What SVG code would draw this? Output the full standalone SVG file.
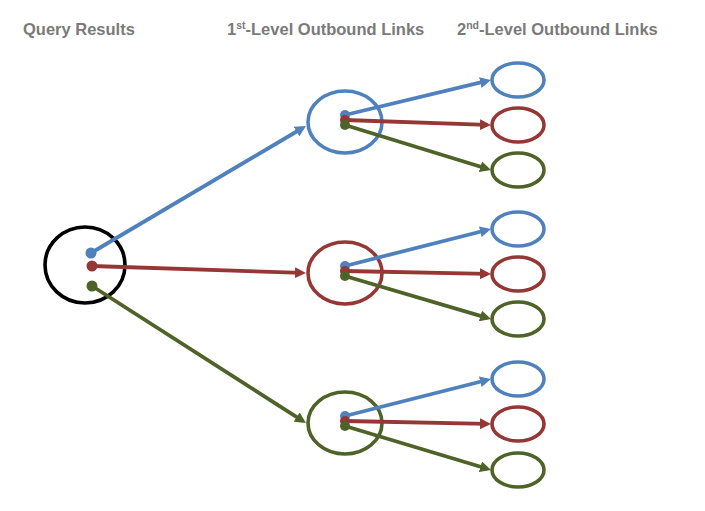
<svg xmlns="http://www.w3.org/2000/svg" width="705" height="511" viewBox="0 0 705 511">
<style>
.t{font-family:"Liberation Sans",Arial,sans-serif;font-weight:bold;font-size:16.5px;fill:#7A7A7A}
.sup{font-size:10.5px}
.n{fill:#fff;stroke-width:3.6}
.b{stroke:#4F81BD}
.r{stroke:#953735}
.g{stroke:#4F6228}
.k{stroke:#000}
.l{stroke-width:3.8;fill:none}
.lb{stroke:#4F81BD;marker-end:url(#ab)}
.lr{stroke:#953735;marker-end:url(#ar)}
.lg{stroke:#4F6228;marker-end:url(#ag)}
.db{fill:#4F81BD}
.dr{fill:#953735}
.dg{fill:#4F6228}
</style>
<defs>
<marker id="ab" viewBox="0 0 10 10" refX="6.4" refY="5" markerWidth="11" markerHeight="11" markerUnits="userSpaceOnUse" orient="auto"><path d="M0,0 L10,5 L0,10 z" fill="#4F81BD"/></marker>
<marker id="ar" viewBox="0 0 10 10" refX="6.4" refY="5" markerWidth="11" markerHeight="11" markerUnits="userSpaceOnUse" orient="auto"><path d="M0,0 L10,5 L0,10 z" fill="#953735"/></marker>
<marker id="ag" viewBox="0 0 10 10" refX="6.4" refY="5" markerWidth="11" markerHeight="11" markerUnits="userSpaceOnUse" orient="auto"><path d="M0,0 L10,5 L0,10 z" fill="#4F6228"/></marker>
</defs>
<rect width="705" height="511" fill="#fff"/>
<g id="headers">
<text class="t" x="23" y="35">Query Results</text>
<text class="t" x="227" y="35">1<tspan class="sup" dy="-6">st</tspan><tspan dy="6">-Level Outbound Links</tspan></text>
<text class="t" x="457" y="35">2<tspan class="sup" dy="-6">nd</tspan><tspan dy="6">-Level Outbound Links</tspan></text>
</g>
<g id="query"><ellipse class="n k" cx="85" cy="265" rx="40" ry="38"/></g>
<g id="l1-top"><ellipse class="n b" cx="345" cy="122" rx="37" ry="31"/></g>
<g id="l1-mid"><ellipse class="n r" cx="345" cy="273" rx="37" ry="31"/></g>
<g id="l1-bot"><ellipse class="n g" cx="345" cy="423" rx="37" ry="31"/></g>
<g id="l2-top-1"><ellipse class="n b" cx="518" cy="80" rx="26" ry="17"/></g>
<g id="l2-top-2"><ellipse class="n r" cx="518" cy="125" rx="26" ry="17"/></g>
<g id="l2-top-3"><ellipse class="n g" cx="518" cy="170" rx="26" ry="17"/></g>
<g id="l2-mid-1"><ellipse class="n b" cx="518" cy="229" rx="26" ry="17"/></g>
<g id="l2-mid-2"><ellipse class="n r" cx="518" cy="274" rx="26" ry="17"/></g>
<g id="l2-mid-3"><ellipse class="n g" cx="518" cy="319" rx="26" ry="17"/></g>
<g id="l2-bot-1"><ellipse class="n b" cx="518" cy="379" rx="26" ry="17"/></g>
<g id="l2-bot-2"><ellipse class="n r" cx="518" cy="424" rx="26" ry="17"/></g>
<g id="l2-bot-3"><ellipse class="n g" cx="518" cy="470" rx="26" ry="17"/></g>
<g id="connectors">
<line class="l lb" x1="91" y1="253" x2="302.6" y2="128"/>
<line class="l lr" x1="92" y1="266" x2="302" y2="272.9"/>
<line class="l lg" x1="92" y1="286" x2="302.6" y2="420.8"/>
<line class="l lb" x1="345" y1="115" x2="487.1" y2="80.9"/>
<line class="l lr" x1="345" y1="120" x2="487" y2="124.9"/>
<line class="l lg" x1="345" y1="125" x2="487.2" y2="168.8"/>
<line class="l lb" x1="345" y1="266" x2="487.1" y2="230"/>
<line class="l lr" x1="345" y1="271" x2="487" y2="273.9"/>
<line class="l lg" x1="345" y1="276" x2="487.2" y2="317.9"/>
<line class="l lb" x1="345" y1="416" x2="487.1" y2="380"/>
<line class="l lr" x1="345" y1="421" x2="487" y2="423.9"/>
<line class="l lg" x1="345" y1="426" x2="487.2" y2="468.8"/>
</g>
<g id="dots">
<circle class="db" cx="91" cy="253" r="5.5"/>
<circle class="dr" cx="92" cy="266" r="5.5"/>
<circle class="dg" cx="92" cy="286" r="5.5"/>
<circle class="db" cx="345" cy="115" r="5"/>
<circle class="dr" cx="345" cy="120" r="5"/>
<circle class="dg" cx="345" cy="125" r="5"/>
<circle class="db" cx="345" cy="266" r="5"/>
<circle class="dr" cx="345" cy="271" r="5"/>
<circle class="dg" cx="345" cy="276" r="5"/>
<circle class="db" cx="345" cy="416" r="5"/>
<circle class="dr" cx="345" cy="421" r="5"/>
<circle class="dg" cx="345" cy="426" r="5"/>
</g>
</svg>
